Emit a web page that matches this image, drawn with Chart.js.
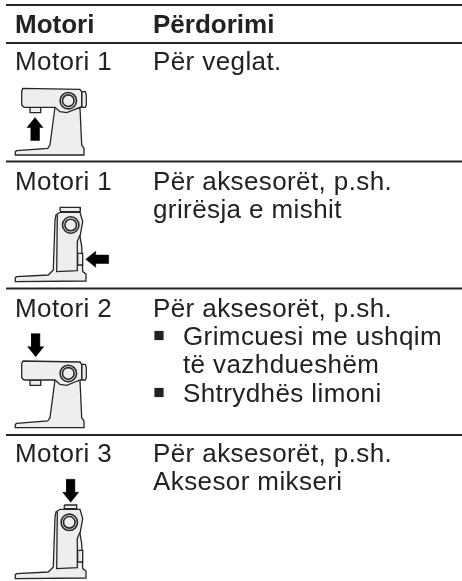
<!DOCTYPE html>
<html>
<head>
<meta charset="utf-8">
<style>
html, body { margin: 0; padding: 0; background: #fff; }
canvas { display: block; }
</style>
<script src="https://cdn.jsdelivr.net/npm/chart.js@4/dist/chart.umd.js"></script>
</head>
<body>
<canvas id="myChart" width="462" height="581"></canvas>
<script>
// table text
const headers = ["Motori", "Përdorimi"];
const motors = ["Motori 1", "Motori 1", "Motori 2", "Motori 3"];
const uses = [
	["Për veglat."],
	["Për aksesorët, p.sh.", "grirësja e mishit"],
	["Për aksesorët, p.sh.", "Grimcuesi me ushqim", "të vazhdueshëm", "Shtrydhës limoni"],
	["Për aksesorët, p.sh.", "Aksesor mikseri"]
];

// the x axis and y axis both run in page units, y going down
const ruleRows = [5, 43, 161.5, 288.5, 435];
const headerRow = 33;
const motorRows = [70, 190, 317, 462];
const useRows = [[70], [190, 218], [317, 345, 373, 402], [462, 490]];

// machine outlines
const sideHead = [[7.7,0.3],[65,1.3],[66.7,3.7],[66.7,18.7],[60,21.3],[51.7,24.7],[45,23.7],[40,19.3],[9,19.3],[6.7,17],[6.7,3.7],[7.7,0.3]];
const sideBody = [[40,19],[35,57],[32.7,60.3],[1.7,62.7],[0.3,63.7],[0.3,67],[69,67],[69,60.3],[66.7,57],[65,20],[40,19]];
const sideKnob = [[66.7,3.7],[70.3,3.7],[71.3,7],[71.3,17],[70.3,19.3],[66.7,19.3],[66.7,3.7]];
const sideStub = [[15,19.3],[15,24.7],[25.7,24.7],[25.7,19.3],[15,19.3]];
const frontBody = [[45,5],[41,7.7],[40,12.7],[38.3,62.7],[33.3,67.7],[1.7,69.3],[0.3,70.3],[0.3,74.3],[71,73.7],[71,66.7],[67.7,64.3],[66.7,39.3],[65,29.3],[67.7,14.3],[65,5],[45,5]];
const frontInner = [[42.3,7.7],[41.7,64.3],[62.3,63.3],[62.3,34.3],[65,27.7]];
const frontSlot = [[62.7,46],[67.7,46],[67.7,57.7],[62.7,57.7],[62.7,46]];
const frontCap = [[45,0],[65,0],[65.7,2.7],[65,4.3],[45.7,4.3],[45,2],[45,0]];
const frontStub = [[49.3,0.7],[61.7,0.7],[61.7,4.3],[49.3,4.3],[49.3,0.7]];
// arrow pointing down, tip at 0,0
const arrowDown = [[0,0],[8,-10],[4.2,-10],[4.2,-23],[-4.2,-23],[-4.2,-10],[-8,-10],[0,0]];

const lineColour = "#262626";
const bodyColour = "#eceef0";

const datasets = [];

function addShape(points, ox, oy, opts) {
	datasets.push(Object.assign({
		data: points.map(p => ({ x: ox + p[0], y: oy + p[1] })),
		showLine: true,
		pointRadius: 0,
		borderColor: lineColour,
		borderWidth: 1.3,
		backgroundColor: bodyColour,
		fill: false,
		tension: 0
	}, opts));
}

function addFilled(points, ox, oy) {
	addShape(points, ox, oy, { fill: "shape" });
}

function addRing(x, y) {
	[8.2, 5.8].forEach(r => {
		datasets.push({
			data: [{ x: x, y: y }],
			showLine: false,
			pointStyle: "circle",
			pointRadius: r,
			pointBorderWidth: 1.6,
			pointBorderColor: lineColour,
			pointBackgroundColor: bodyColour
		});
	});
}

function addSide(ox, oy) {
	addFilled(sideBody, ox, oy);
	addFilled(sideKnob, ox, oy);
	addFilled(sideStub, ox, oy);
	addFilled(sideHead, ox, oy);
	addRing(ox + 53.3, oy + 12.7);
}

function addFront(ox, oy, top, ringX, ringY) {
	addFilled(top, ox, oy);
	addFilled(frontBody, ox, oy);
	addShape(frontInner, ox, oy, {});
	addFilled(frontSlot, ox, oy);
	addRing(ox + ringX, oy + ringY);
}

function addArrow(tipX, tipY, turn) {
	// turn: 1 = down, -1 = up, 0 = left
	const pts = arrowDown.map(p => {
		if (turn === 1) return [p[0], p[1]];
		if (turn === -1) return [p[0], -p[1]];
		return [-p[1], p[0]];
	});
	addShape(pts, tipX, tipY, { fill: "shape", backgroundColor: "#000", borderColor: "#000", borderWidth: 0.5 });
}

ruleRows.forEach(y => {
	addShape([[6, y], [462, y]], 0, 0, { borderWidth: 1.8 });
});

addSide(15, 88);
addArrow(35, 117.5, -1);

addFront(15, 207.3, frontCap, 55.7, 17.7);
addArrow(85.7, 259.3, 0);

addSide(15, 360.7);
addArrow(35.7, 356.7, 1);

addFront(15, 504.3, frontStub, 54.3, 18);
addArrow(70.7, 502.3, 1);

// bullets in the third row
datasets.push({
	data: [{ x: 159, y: useRows[2][1] - 9.5 }, { x: 159, y: useRows[2][3] - 9.5 }],
	showLine: false,
	pointStyle: "rect",
	pointRadius: 6.5,
	pointBorderWidth: 0,
	pointBackgroundColor: "#222"
});

datasets.forEach((d, i) => { d.order = -i; });

const tableText = {
	id: "tableText",
	afterDatasetsDraw(chart) {
		const ctx = chart.ctx;
		const sx = chart.scales.x;
		const sy = chart.scales.y;
		const put = (str, x, y) => ctx.fillText(str, sx.getPixelForValue(x), sy.getPixelForValue(y));

		ctx.save();
		ctx.textBaseline = "alphabetic";
		ctx.textAlign = "left";
		ctx.fillStyle = "#222";

		ctx.font = "bold 26px 'Liberation Sans'";
		ctx.letterSpacing = "0px";
		put(headers[0], 15, headerRow);
		put(headers[1], 153, headerRow);

		ctx.font = "26px 'Liberation Sans'";
		ctx.letterSpacing = "0.4px";
		motors.forEach((m, i) => put(m, 15, motorRows[i]));
		uses.forEach((lines, i) => {
			lines.forEach((line, j) => {
				const indented = i === 2 && j > 0;
				put(line, indented ? 183 : 153, useRows[i][j]);
			});
		});
		ctx.restore();
	}
};

new Chart(document.getElementById("myChart").getContext("2d"), {
	type: "scatter",
	data: { datasets: datasets },
	options: {
		responsive: false,
		animation: false,
		layout: { padding: 0, autoPadding: false },
		plugins: {
			legend: { display: false },
			tooltip: { enabled: false }
		},
		scales: {
			x: { type: "linear", min: 0, max: 462, display: false },
			y: { type: "linear", min: 0, max: 581, reverse: true, display: false }
		}
	},
	plugins: [tableText]
});
</script>
</body>
</html>
